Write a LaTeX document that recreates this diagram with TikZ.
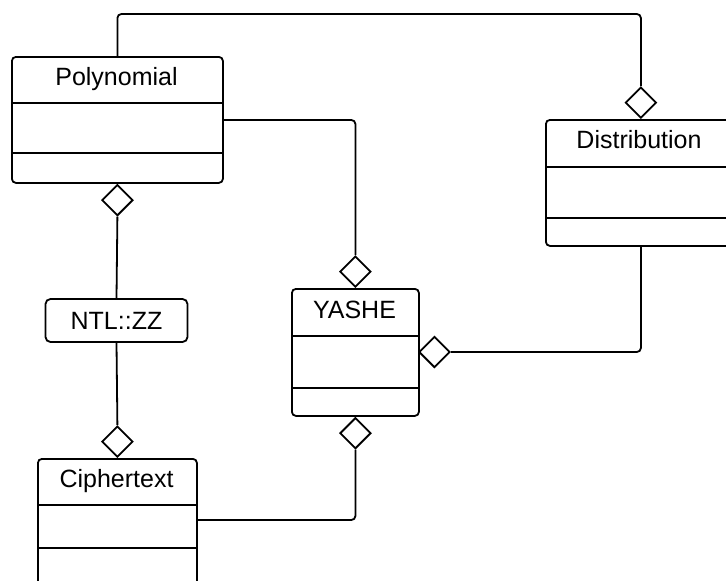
\documentclass[tikz,border=0pt]{standalone}
\usepackage{fontspec}
\setmainfont{Liberation Sans}
\usetikzlibrary{shapes.geometric}
\begin{document}
\begin{tikzpicture}[x=1pt,y=-1pt,
  lw/.style={line width=1.8pt},
  cls/.style={draw, lw, rounded corners=4pt, inner sep=0pt, anchor=north west},
  ttl/.style={anchor=base, inner sep=0pt, font=\fontsize{25}{29}\selectfont},
  dia/.style={diamond, draw, lw, fill=white, aspect=1, minimum size=31pt, inner sep=0pt},
  conn/.style={lw, rounded corners=4pt},
  ntlbox/.style={draw, lw, rounded corners=5pt, minimum width=142pt, minimum height=43pt, inner sep=0pt, font=\fontsize{25}{29}\selectfont}]
\path[use as bounding box, clip] (0,0) rectangle (726,581);

% class boxes
\node[cls, minimum width=211pt, minimum height=126pt] (poly) at (11,56) {};
\node[ttl] (polyT) at (116.5,85) {Polynomial};
\draw[lw] (poly.west |- 0,103) -- (poly.east |- 0,103);
\draw[lw] (poly.west |- 0,153) -- (poly.east |- 0,153);

\node[cls, minimum width=190pt, minimum height=126pt] (dist) at (545,119) {};
\node[ttl] (distT) at (639,148) {Distribution};
\draw[lw] (dist.west |- 0,167) -- (dist.east |- 0,167);
\draw[lw] (dist.west |- 0,218) -- (dist.east |- 0,218);

\node[cls, minimum width=127pt, minimum height=127pt] (yashe) at (291,288) {};
\node[ttl] (yasheT) at (354.5,318) {YASHE};
\draw[lw] (yashe.west |- 0,336) -- (yashe.east |- 0,336);
\draw[lw] (yashe.west |- 0,388) -- (yashe.east |- 0,388);

\node[cls, minimum width=159pt, minimum height=150pt] (ciph) at (37,458) {};
\node[ttl] (ciphT) at (116.5,487) {Ciphertext};
\draw[lw] (ciph.west |- 0,505) -- (ciph.east |- 0,505);
\draw[lw] (ciph.west |- 0,548) -- (ciph.east |- 0,548);

\node[ntlbox] (ntl) at (116.5,320.5) {NTL::ZZ};

% diamonds
\node[dia, anchor=south] (dDist) at (dist.north) {};
\node[dia, anchor=north] (dPoly) at (poly.south) {};
\node[dia, anchor=south] (dYasheT) at (yashe.north) {};
\node[dia, anchor=west] (dYasheR) at (418,352) {};
\node[dia, anchor=north] (dYasheB) at (yashe.south) {};
\node[dia, anchor=south] (dCiph) at (ciph.north) {};

% connectors
\draw[conn] (poly.north) -- ++(0,-42) -| (dDist.north);
\draw[conn] (poly.east |- 0,120) -| (dYasheT.north);
\draw[conn] (dYasheR.east) -| (dist.south);
\draw[conn] (dPoly.south) -- (ntl.north);
\draw[conn] (ntl.south) -- (dCiph.north);
\draw[conn] (dYasheB.south) |- (ciph.east |- 0,520);
\end{tikzpicture}
\end{document}
